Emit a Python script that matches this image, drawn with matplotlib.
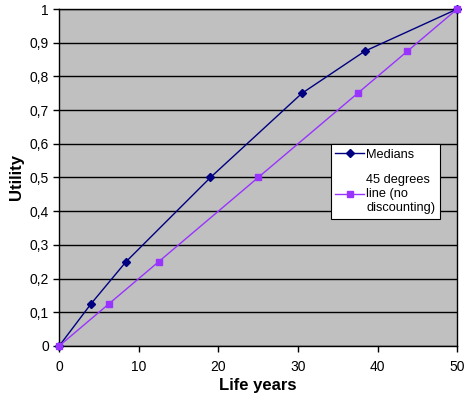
import matplotlib

matplotlib.use("Agg")
import matplotlib.pyplot as plt
from matplotlib.ticker import FuncFormatter

plt.rcParams["font.family"] = ["Liberation Sans", "DejaVu Sans"]

# values
median_years = [0, 4, 8.4, 19, 30.5, 38.4, 50]
median_utility = [0, 0.125, 0.25, 0.5, 0.75, 0.875, 1]
line45_years = [0, 6.25, 12.5, 25, 37.5, 43.75, 50]
line45_utility = [0, 0.125, 0.25, 0.5, 0.75, 0.875, 1]

fig = plt.figure(figsize=(4.66, 3.94), dpi=100)
ax = fig.add_axes([0.127, 0.122, 0.854, 0.855])
ax.set_facecolor("#c0c0c0")

ax.plot(median_years, median_utility, color="#000080", marker="D", markersize=4,
        linewidth=1, label="Medians", clip_on=False, zorder=3)
ax.plot(line45_years, line45_utility, color="#9933ff", marker="s", markersize=4.5,
        linewidth=1, label="45 degrees\nline (no\ndiscounting)", clip_on=False, zorder=3)

ax.set_xlim(0, 50)
ax.set_ylim(0, 1)
ax.set_xticks(range(0, 51, 10))
ax.set_yticks([i / 10 for i in range(11)])
ax.yaxis.set_major_formatter(FuncFormatter(lambda v, _: f"{v:g}".replace(".", ",")))
ax.yaxis.grid(True, color="black", linewidth=1)
ax.set_axisbelow(True)
ax.tick_params(labelsize=10, direction="out", length=4, width=1)
ax.tick_params(axis="x", pad=6)
for s in ax.spines.values():
    s.set_linewidth(1)
    s.set_color("black")

ax.set_xlabel("Life years", fontsize=12, fontweight="bold", labelpad=3)
ax.set_ylabel("Utility", fontsize=12, fontweight="bold", labelpad=4)

leg = ax.legend(loc="upper left", bbox_to_anchor=(0.683, 0.598), fontsize=9.2,
                frameon=True, fancybox=False, edgecolor="black", framealpha=1,
                handlelength=2.2, handletextpad=0.2, borderpad=0.35,
                labelspacing=1.0, borderaxespad=0)
leg.get_frame().set_linewidth(0.8)
for t in leg.get_texts():
    t.set_linespacing(1.25)

fig.savefig("out.png", dpi=100)
